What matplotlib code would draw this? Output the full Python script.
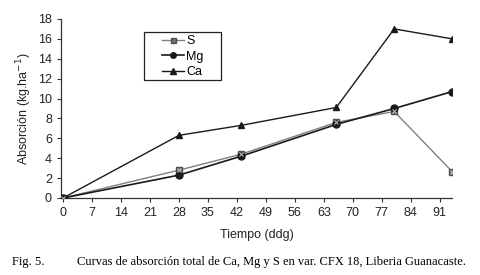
import matplotlib
matplotlib.use("Agg")
import matplotlib.pyplot as plt
from matplotlib.patches import Rectangle

days = [0, 28, 43, 66, 80, 94]
S = [0, 2.8, 4.4, 7.6, 8.7, 2.65]
Mg = [0, 2.3, 4.2, 7.4, 9.0, 10.7]
Ca = [0, 6.3, 7.3, 9.1, 17.0, 16.0]
xticks = [0, 7, 14, 21, 28, 35, 42, 49, 56, 63, 70, 77, 84, 91]
yticks = [0, 2, 4, 6, 8, 10, 12, 14, 16, 18]

plt.rcParams['font.family'] = ['Liberation Sans', 'DejaVu Sans']
fig = plt.figure(figsize=(4.8, 2.75), dpi=100)
ax = fig.add_axes([0.127, 0.28, 0.815, 0.651])

ax.plot(days, S, color='#808080', lw=1.0, marker='s', ms=4.5, mfc='#707070',
        mec='#505050', label='S', zorder=3)
ax.plot(days, S, ls='none', marker='x', ms=3.5, mec='#c8c8c8', mew=0.7, zorder=4)
ax.plot(days, Mg, color='#1a1a1a', lw=1.2, marker='o', ms=5, label='Mg', zorder=3)
ax.plot(days, Ca, color='#1a1a1a', lw=1.0, marker='^', ms=5, label='Ca', zorder=3)

ax.set_xlim(-0.5, 94)
ax.set_ylim(0, 18)
ax.set_xticks(xticks)
ax.set_yticks(yticks)
for s in ['top', 'right']:
    ax.spines[s].set_visible(False)
for s in ['left', 'bottom']:
    ax.spines[s].set_color('#333333')
    ax.spines[s].set_linewidth(0.9)
ax.tick_params(direction='out', length=3, width=0.8, labelsize=9, colors='#333333',
               labelcolor='#222222')
ax.set_xlabel('Tiempo (ddg)', fontsize=9, color='#222222', labelpad=7)
ax.set_ylabel('Absorción (kg.ha$^{-1}$)', fontsize=9, color='#222222', labelpad=3)

leg = fig.legend(*ax.get_legend_handles_labels(), loc='upper left',
                 bbox_to_anchor=(162 / 480, 1 - 35 / 275), fontsize=9,
                 frameon=False, handlelength=1.75, handletextpad=0.2,
                 borderpad=0.0, borderaxespad=0.0, labelspacing=0.3,
                 markerscale=0.8)
fig.patches.append(Rectangle((144 / 480, 1 - 80 / 275), 77 / 480, 48 / 275,
                             transform=fig.transFigure, fill=False,
                             edgecolor='#222222', lw=0.9))

fig.text(12 / 480, 0.035, 'Fig. 5.', fontsize=9, family='Liberation Serif')
fig.text(77 / 480, 0.035, 'Curvas de absorción total de Ca, Mg y S en var. CFX 18, Liberia Guanacaste.',
         fontsize=9, family='Liberation Serif')

fig.savefig('out.png', dpi=100)
